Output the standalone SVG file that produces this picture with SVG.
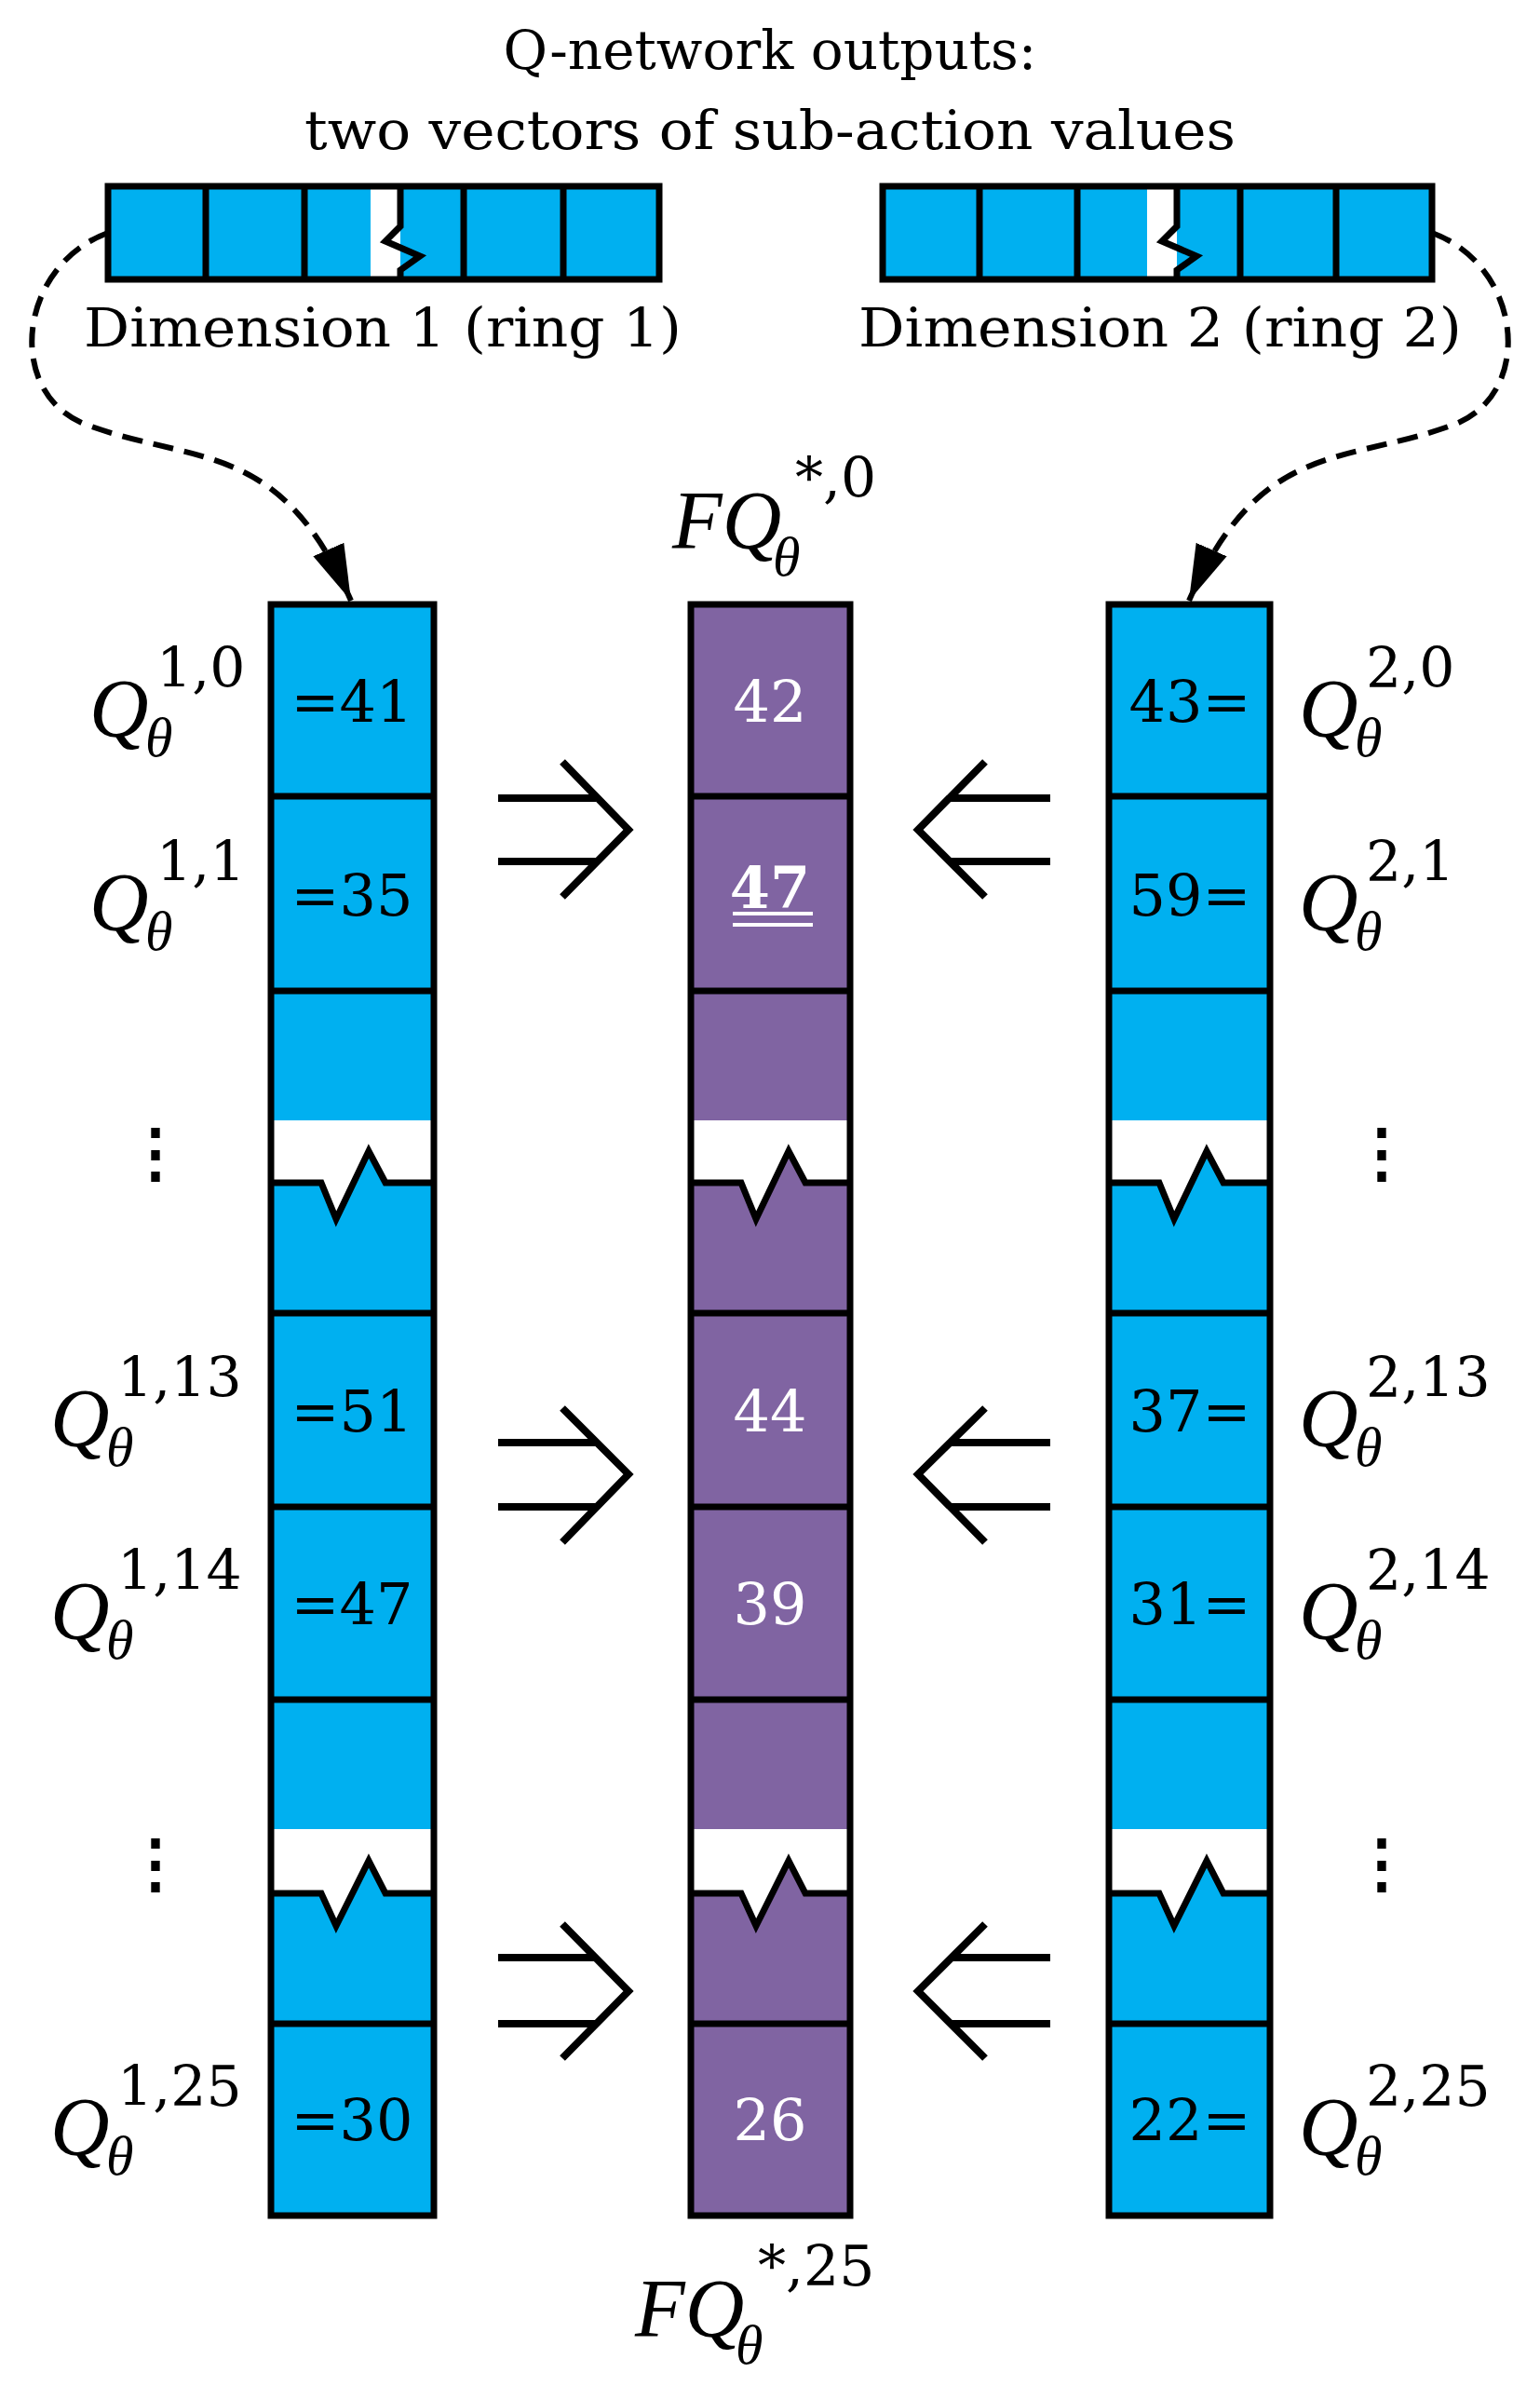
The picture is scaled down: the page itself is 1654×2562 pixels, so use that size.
<svg xmlns="http://www.w3.org/2000/svg" width="1654" height="2562" viewBox="0 0 1654 2562">
<style>
text{font-family:"DejaVu Serif","Liberation Serif",serif;}
.t{font-size:58px;fill:#000}
.n{font-size:62px;fill:#000;text-anchor:middle}
.w{font-size:62px;fill:#fff;text-anchor:middle}
.b{fill:#00b0f0}
.p{fill:#8064a2}
.o{fill:none;stroke:#000;stroke-width:7}
.q{font-size:88px;font-style:italic;font-family:"Liberation Serif",serif}
.s{font-size:60px}
.th{font-size:60px;font-style:italic;font-family:"Liberation Serif",serif}
.dot{font-size:70px;font-weight:bold;text-anchor:middle}
</style>
<defs>
<marker id="ah2" markerWidth="60" markerHeight="40" refX="60" refY="20" orient="auto" markerUnits="userSpaceOnUse" viewBox="0 0 60 40"><path d="M0,2 L60,20 L0,38 z"/></marker>
</defs>
<g id="title">
<text class="t" x="827" y="74" text-anchor="middle">Q-network outputs:</text>
<text class="t" x="827" y="160" text-anchor="middle" textLength="1000" lengthAdjust="spacingAndGlyphs">two vectors of sub-action values</text>
</g>
<g id="vec1">
<rect class="b" x="116" y="200" width="592" height="100"/>
<rect x="398" y="200" width="32" height="100" fill="#fff"/>
<path class="o" d="M430,200 L430,243 L414,259 L451,275 L430,290 L430,300"/>
<path class="o" d="M221,200V300M327,200V300M498,200V300M605,200V300"/>
<rect class="o" x="116" y="200" width="592" height="100"/>
<text class="t" x="90" y="372" textLength="642" lengthAdjust="spacingAndGlyphs">Dimension 1 (ring 1)</text>
</g>
<g id="vec2">
<rect class="b" x="948" y="200" width="590" height="100"/>
<rect x="1232" y="200" width="32" height="100" fill="#fff"/>
<path class="o" d="M1264,200 L1264,243 L1248,259 L1285,275 L1264,290 L1264,300"/>
<path class="o" d="M1052,200V300M1157,200V300M1332,200V300M1435,200V300"/>
<rect class="o" x="948" y="200" width="590" height="100"/>
<text class="t" x="922" y="372" textLength="648" lengthAdjust="spacingAndGlyphs">Dimension 2 (ring 2)</text>
</g>
<g id="col1">
<rect class="b" x="291" y="649" width="175" height="1730"/>
<path fill="#fff" d="M291,1203H466V1270H414L396,1236L361,1309L345,1270H291zM291,1964H466V2033H414L396,1998L361,2068L345,2033H291z"/>
<path class="o" d="M291,1270H345L361,1309L396,1236L414,1270H466M291,2033H345L361,2068L396,1998L414,2033H466"/>
<path class="o" d="M291,855H466M291,1064H466M291,1410H466M291,1618H466M291,1825H466M291,2173H466"/>
<rect class="o" x="291" y="649" width="175" height="1730"/>
<text class="n" x="378" y="775">=41</text>
<text class="n" x="378" y="983">=35</text>
<text class="n" x="378" y="1537">=51</text>
<text class="n" x="378" y="1744">=47</text>
<text class="n" x="378" y="2298">=30</text>
</g>
<g id="col2">
<rect class="p" x="742" y="649" width="171" height="1730"/>
<path fill="#fff" d="M742,1203H913V1270H865L847,1236L812,1309L796,1270H742zM742,1964H913V2033H865L847,1998L812,2068L796,2033H742z"/>
<path class="o" d="M742,1270H796L812,1309L847,1236L865,1270H913M742,2033H796L812,2068L847,1998L865,2033H913"/>
<path class="o" d="M742,855H913M742,1064H913M742,1410H913M742,1618H913M742,1825H913M742,2173H913"/>
<rect class="o" x="742" y="649" width="171" height="1730"/>
<text class="w" x="827" y="775">42</text>
<text class="w" x="827" y="975" font-weight="bold">47</text>
<path d="M787,981H873M787,993H873" stroke="#fff" stroke-width="4"/>
<text class="w" x="827" y="1537">44</text>
<text class="w" x="827" y="1744">39</text>
<text class="w" x="827" y="2298">26</text>
</g>
<g id="col3">
<rect class="b" x="1191" y="649" width="173" height="1730"/>
<path fill="#fff" d="M1191,1203H1364V1270H1314L1296,1236L1261,1309L1245,1270H1191zM1191,1964H1364V2033H1314L1296,1998L1261,2068L1245,2033H1191z"/>
<path class="o" d="M1191,1270H1245L1261,1309L1296,1236L1314,1270H1364M1191,2033H1245L1261,2068L1296,1998L1314,2033H1364"/>
<path class="o" d="M1191,855H1364M1191,1064H1364M1191,1410H1364M1191,1618H1364M1191,1825H1364M1191,2173H1364"/>
<rect class="o" x="1191" y="649" width="173" height="1730"/>
<text class="n" x="1278" y="775">43=</text>
<text class="n" x="1278" y="983">59=</text>
<text class="n" x="1278" y="1537">37=</text>
<text class="n" x="1278" y="1744">31=</text>
<text class="n" x="1278" y="2298">22=</text>
</g>
<g id="labels-left">
<g transform="translate(96,790)"><text class="q" x="0" y="0">Q</text><text class="s" x="72" y="-52">1,0</text><text class="th" x="60" y="22">θ</text></g>
<g transform="translate(96,998)"><text class="q" x="0" y="0">Q</text><text class="s" x="72" y="-52">1,1</text><text class="th" x="60" y="22">θ</text></g>
<g transform="translate(54,1552)"><text class="q" x="0" y="0">Q</text><text class="s" x="72" y="-52">1,13</text><text class="th" x="60" y="22">θ</text></g>
<g transform="translate(54,1759)"><text class="q" x="0" y="0">Q</text><text class="s" x="72" y="-52">1,14</text><text class="th" x="60" y="22">θ</text></g>
<g transform="translate(54,2313)"><text class="q" x="0" y="0">Q</text><text class="s" x="72" y="-52">1,25</text><text class="th" x="60" y="22">θ</text></g>
<text class="dot" x="167" y="1262">⋮</text>
<text class="dot" x="167" y="2025">⋮</text>
</g>
<g id="labels-right">
<g transform="translate(1395,790)"><text class="q" x="0" y="0">Q</text><text class="s" x="72" y="-52">2,0</text><text class="th" x="60" y="22">θ</text></g>
<g transform="translate(1395,998)"><text class="q" x="0" y="0">Q</text><text class="s" x="72" y="-52">2,1</text><text class="th" x="60" y="22">θ</text></g>
<g transform="translate(1395,1552)"><text class="q" x="0" y="0">Q</text><text class="s" x="72" y="-52">2,13</text><text class="th" x="60" y="22">θ</text></g>
<g transform="translate(1395,1759)"><text class="q" x="0" y="0">Q</text><text class="s" x="72" y="-52">2,14</text><text class="th" x="60" y="22">θ</text></g>
<g transform="translate(1395,2313)"><text class="q" x="0" y="0">Q</text><text class="s" x="72" y="-52">2,25</text><text class="th" x="60" y="22">θ</text></g>
<text class="dot" x="1484" y="1262">⋮</text>
<text class="dot" x="1484" y="2025">⋮</text>
</g>
<g id="fq-top" transform="translate(722,588)"><text class="q" x="0" y="0">FQ</text><text class="s" x="132" y="-54">*,0</text><text class="th" x="108" y="30">θ</text></g>
<g id="fq-bottom" transform="translate(682,2508)"><text class="q" x="0" y="0">FQ</text><text class="s" x="132" y="-54">*,25</text><text class="th" x="108" y="30">θ</text></g>
<g id="connectors" fill="none" stroke="#000" stroke-width="6">
<path d="M116,250 C20,285 5,420 90,455 C210,500 300,470 377,645" stroke-dasharray="22,12" marker-end="url(#ah2)"/>
<path d="M1538,250 C1634,285 1649,420 1564,455 C1444,500 1354,470 1277,645" stroke-dasharray="22,12" marker-end="url(#ah2)"/>
<g stroke-width="8">
<path d="M535,857H640M535,925H640M604,818L675,891L604,963"/>
<path d="M535,1549H640M535,1618H640M604,1512L675,1583L604,1656"/>
<path d="M535,2102H640M535,2173H640M604,2066L675,2138L604,2210"/>
<path d="M1128,857H1020M1128,925H1020M1058,818L986,891L1058,963"/>
<path d="M1128,1549H1020M1128,1618H1020M1058,1512L986,1583L1058,1656"/>
<path d="M1128,2102H1020M1128,2173H1020M1058,2066L986,2138L1058,2210"/>
</g>
</g>
</svg>
